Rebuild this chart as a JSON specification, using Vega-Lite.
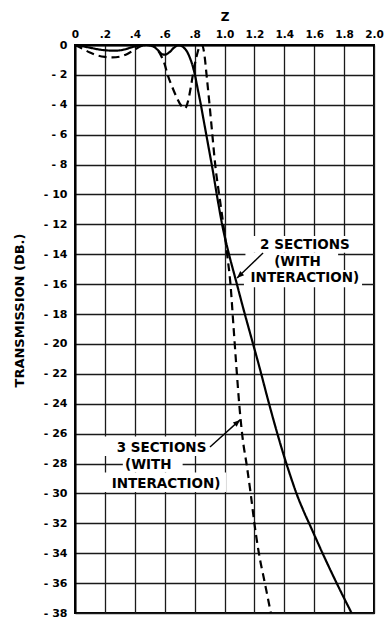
{
  "$schema": "https://vega.github.io/schema/vega-lite/v6.json",
  "width": 299,
  "height": 568,
  "autosize": {"type": "none"},
  "padding": {"left": 75, "top": 45, "right": 10, "bottom": 13},
  "background": "white",
  "config": {
    "view": {"stroke": "black", "strokeWidth": 2},
    "font": "DejaVu Sans"
  },
  "datasets": {
    "curves": [
      {"series": "2 sections", "z": 0, "db": 0},
      {"series": "2 sections", "z": 0.05, "db": -0.08},
      {"series": "2 sections", "z": 0.1, "db": -0.18},
      {"series": "2 sections", "z": 0.15, "db": -0.28},
      {"series": "2 sections", "z": 0.2, "db": -0.35},
      {"series": "2 sections", "z": 0.27, "db": -0.38},
      {"series": "2 sections", "z": 0.33, "db": -0.3},
      {"series": "2 sections", "z": 0.38, "db": -0.15},
      {"series": "2 sections", "z": 0.43, "db": -0.03},
      {"series": "2 sections", "z": 0.48, "db": 0},
      {"series": "2 sections", "z": 0.52, "db": -0.08},
      {"series": "2 sections", "z": 0.55, "db": -0.3},
      {"series": "2 sections", "z": 0.58, "db": -0.6},
      {"series": "2 sections", "z": 0.6, "db": -0.65},
      {"series": "2 sections", "z": 0.63, "db": -0.5},
      {"series": "2 sections", "z": 0.66, "db": -0.2},
      {"series": "2 sections", "z": 0.69, "db": -0.03},
      {"series": "2 sections", "z": 0.71, "db": -0.05},
      {"series": "2 sections", "z": 0.73, "db": -0.2},
      {"series": "2 sections", "z": 0.75, "db": -0.45},
      {"series": "2 sections", "z": 0.77, "db": -0.9},
      {"series": "2 sections", "z": 0.79, "db": -1.5},
      {"series": "2 sections", "z": 0.8, "db": -1.9},
      {"series": "2 sections", "z": 0.82, "db": -2.9},
      {"series": "2 sections", "z": 0.84, "db": -3.9},
      {"series": "2 sections", "z": 0.86, "db": -5.0},
      {"series": "2 sections", "z": 0.88, "db": -6.1},
      {"series": "2 sections", "z": 0.9, "db": -7.2},
      {"series": "2 sections", "z": 0.92, "db": -8.3},
      {"series": "2 sections", "z": 0.95, "db": -10.1},
      {"series": "2 sections", "z": 0.99, "db": -12.3},
      {"series": "2 sections", "z": 1.03, "db": -14.0},
      {"series": "2 sections", "z": 1.075, "db": -15.7},
      {"series": "2 sections", "z": 1.125, "db": -17.6},
      {"series": "2 sections", "z": 1.18, "db": -19.6},
      {"series": "2 sections", "z": 1.235, "db": -21.6},
      {"series": "2 sections", "z": 1.29, "db": -23.7},
      {"series": "2 sections", "z": 1.345, "db": -25.7},
      {"series": "2 sections", "z": 1.395, "db": -27.4},
      {"series": "2 sections", "z": 1.44, "db": -28.8},
      {"series": "2 sections", "z": 1.485, "db": -30.1},
      {"series": "2 sections", "z": 1.53, "db": -31.2},
      {"series": "2 sections", "z": 1.575, "db": -32.2},
      {"series": "2 sections", "z": 1.665, "db": -34.2},
      {"series": "2 sections", "z": 1.755, "db": -36.1},
      {"series": "2 sections", "z": 1.85, "db": -38.0},
      {"series": "3 sections", "z": 0, "db": 0},
      {"series": "3 sections", "z": 0.05, "db": -0.25},
      {"series": "3 sections", "z": 0.1, "db": -0.5},
      {"series": "3 sections", "z": 0.15, "db": -0.7},
      {"series": "3 sections", "z": 0.2, "db": -0.8},
      {"series": "3 sections", "z": 0.25, "db": -0.83},
      {"series": "3 sections", "z": 0.3, "db": -0.78},
      {"series": "3 sections", "z": 0.35, "db": -0.6},
      {"series": "3 sections", "z": 0.4, "db": -0.3},
      {"series": "3 sections", "z": 0.44, "db": -0.08},
      {"series": "3 sections", "z": 0.48, "db": 0},
      {"series": "3 sections", "z": 0.52, "db": -0.05},
      {"series": "3 sections", "z": 0.55, "db": -0.3},
      {"series": "3 sections", "z": 0.58, "db": -0.8},
      {"series": "3 sections", "z": 0.6, "db": -1.3},
      {"series": "3 sections", "z": 0.62, "db": -2.0},
      {"series": "3 sections", "z": 0.65, "db": -2.8},
      {"series": "3 sections", "z": 0.68, "db": -3.5},
      {"series": "3 sections", "z": 0.71, "db": -4.05},
      {"series": "3 sections", "z": 0.735, "db": -4.25},
      {"series": "3 sections", "z": 0.755, "db": -3.8},
      {"series": "3 sections", "z": 0.775, "db": -2.8},
      {"series": "3 sections", "z": 0.79, "db": -1.9},
      {"series": "3 sections", "z": 0.81, "db": -0.9},
      {"series": "3 sections", "z": 0.83, "db": -0.2},
      {"series": "3 sections", "z": 0.85, "db": 0},
      {"series": "3 sections", "z": 0.865, "db": -0.6},
      {"series": "3 sections", "z": 0.88, "db": -2.0},
      {"series": "3 sections", "z": 0.9, "db": -4.0},
      {"series": "3 sections", "z": 0.915, "db": -5.6},
      {"series": "3 sections", "z": 0.94, "db": -8.2},
      {"series": "3 sections", "z": 0.97, "db": -10.4},
      {"series": "3 sections", "z": 1.0, "db": -12.6},
      {"series": "3 sections", "z": 1.02, "db": -14.2},
      {"series": "3 sections", "z": 1.04, "db": -16.0},
      {"series": "3 sections", "z": 1.06, "db": -18.8},
      {"series": "3 sections", "z": 1.08, "db": -21.6},
      {"series": "3 sections", "z": 1.1, "db": -24.2},
      {"series": "3 sections", "z": 1.12, "db": -26.2},
      {"series": "3 sections", "z": 1.15, "db": -28.2},
      {"series": "3 sections", "z": 1.175, "db": -30.0},
      {"series": "3 sections", "z": 1.2, "db": -32.0},
      {"series": "3 sections", "z": 1.23, "db": -34.0},
      {"series": "3 sections", "z": 1.27, "db": -36.0},
      {"series": "3 sections", "z": 1.31, "db": -38.0}
    ],
    "boxes": [
      {"z1": 1.17, "z2": 1.89, "d1": -12.78, "d2": -13.9},
      {"z1": 1.14, "z2": 1.76, "d1": -13.9, "d2": -15.05},
      {"z1": 1.13, "z2": 1.92, "d1": -15.05, "d2": -16.2},
      {"z1": 0.194, "z2": 0.93, "d1": -26.2, "d2": -27.5},
      {"z1": 0.32, "z2": 0.72, "d1": -27.5, "d2": -28.6},
      {"z1": 0.194, "z2": 1.01, "d1": -28.6, "d2": -29.9}
    ],
    "arrows": [
      {"name": "a2", "z1": 1.258, "d1": -13.91, "z2": 1.084, "d2": -15.59},
      {"name": "a3", "z1": 0.903, "d1": -26.9, "z2": 1.104, "d2": -25.08}
    ],
    "labels": [
      {"z": 1.538, "db": -13.38, "text": "2 SECTIONS"},
      {"z": 1.488, "db": -14.52, "text": "(WITH"},
      {"z": 1.538, "db": -15.59, "text": "INTERACTION)"},
      {"z": 0.579, "db": -26.96, "text": "3 SECTIONS"},
      {"z": 0.49, "db": -28.09, "text": "(WITH"},
      {"z": 0.609, "db": -29.36, "text": "INTERACTION)"}
    ]
  },
  "layer": [
    {
      "data": {"name": "boxes"},
      "mark": {"type": "rect", "fill": "white", "stroke": null},
      "encoding": {
        "x": {
          "field": "z1", "type": "quantitative",
          "scale": {"domain": [0, 2], "nice": false, "zero": false},
          "axis": {
            "orient": "top",
            "title": "Z",
            "titleFontSize": 12,
            "titleFontWeight": "bold",
            "titleColor": "black",
            "titlePadding": 6,
            "values": [0, 0.2, 0.4, 0.6, 0.8, 1.0, 1.2, 1.4, 1.6, 1.8, 2.0],
            "tickCount": 50,
            "labelExpr": "datum.value == 0 ? '0' : (datum.value < 1 ? '.' + round(datum.value * 10) : format(datum.value, '.1f'))",
            "labelFontSize": 10.5,
            "labelFontWeight": "bold",
            "labelColor": "black",
            "labelPadding": 6,
            "labelFlush": false,
            "labelOverlap": false,
            "labelBound": false,
            "ticks": false,
            "grid": true,
            "gridColor": "#1a1a1a",
            "gridWidth": 1.3,
            "gridOpacity": 1,
            "domain": true,
            "domainColor": "black",
            "domainWidth": 2
          }
        },
        "x2": {"field": "z2"},
        "y": {
          "field": "d1", "type": "quantitative",
          "scale": {"domain": [-38, 0], "nice": false, "zero": false},
          "axis": {
            "title": "TRANSMISSION (DB.)",
            "titleFontSize": 13,
            "titleFontWeight": "bold",
            "titleColor": "black",
            "titlePadding": 17,
            "titleY": 265,
            "values": [0, -2, -4, -6, -8, -10, -12, -14, -16, -18, -20, -22, -24, -26, -28, -30, -32, -34, -36, -38],
            "tickCount": 50,
            "labelExpr": "datum.value == 0 ? '0' : '- ' + abs(datum.value)",
            "labelFontSize": 11,
            "labelFontWeight": "bold",
            "labelColor": "black",
            "labelPadding": 8,
            "labelOverlap": false,
            "labelBound": false,
            "labelFlush": false,
            "ticks": false,
            "grid": true,
            "gridColor": "#1a1a1a",
            "gridWidth": 1.3,
            "gridOpacity": 1,
            "domain": true,
            "domainColor": "black",
            "domainWidth": 2
          }
        },
        "y2": {"field": "d2"}
      }
    },
    {
      "data": {"name": "curves"},
      "mark": {"type": "line", "color": "black", "strokeWidth": 2.2, "interpolate": "monotone"},
      "encoding": {
        "x": {"field": "z", "type": "quantitative"},
        "y": {"field": "db", "type": "quantitative"},
        "detail": {"field": "series"},
        "strokeDash": {
          "field": "series", "type": "nominal",
          "scale": {"domain": ["2 sections", "3 sections"], "range": [[1, 0], [8, 5]]},
          "legend": null
        }
      }
    },
    {
      "data": {"name": "arrows"},
      "mark": {"type": "rule", "color": "black", "strokeWidth": 1.4},
      "encoding": {
        "x": {"field": "z1", "type": "quantitative"},
        "y": {"field": "d1", "type": "quantitative"},
        "x2": {"field": "z2"},
        "y2": {"field": "d2"}
      }
    },
    {
      "data": {"name": "arrows"},
      "transform": [{"filter": "datum.name == 'a2'"}],
      "mark": {"type": "point", "filled": true, "color": "black", "opacity": 1, "size": 200, "angle": 226, "shape": "M0,0 L0.4,1 L-0.4,1 Z"},
      "encoding": {
        "x": {"field": "z2", "type": "quantitative"},
        "y": {"field": "d2", "type": "quantitative"}
      }
    },
    {
      "data": {"name": "arrows"},
      "transform": [{"filter": "datum.name == 'a3'"}],
      "mark": {"type": "point", "filled": true, "color": "black", "opacity": 1, "size": 200, "angle": 48, "shape": "M0,0 L0.4,1 L-0.4,1 Z"},
      "encoding": {
        "x": {"field": "z2", "type": "quantitative"},
        "y": {"field": "d2", "type": "quantitative"}
      }
    },
    {
      "data": {"name": "labels"},
      "mark": {"type": "text", "font": "DejaVu Sans", "fontWeight": "bold", "fontSize": 13.5, "color": "black", "align": "center", "baseline": "middle"},
      "encoding": {
        "x": {"field": "z", "type": "quantitative"},
        "y": {"field": "db", "type": "quantitative"},
        "text": {"field": "text"}
      }
    }
  ]
}
